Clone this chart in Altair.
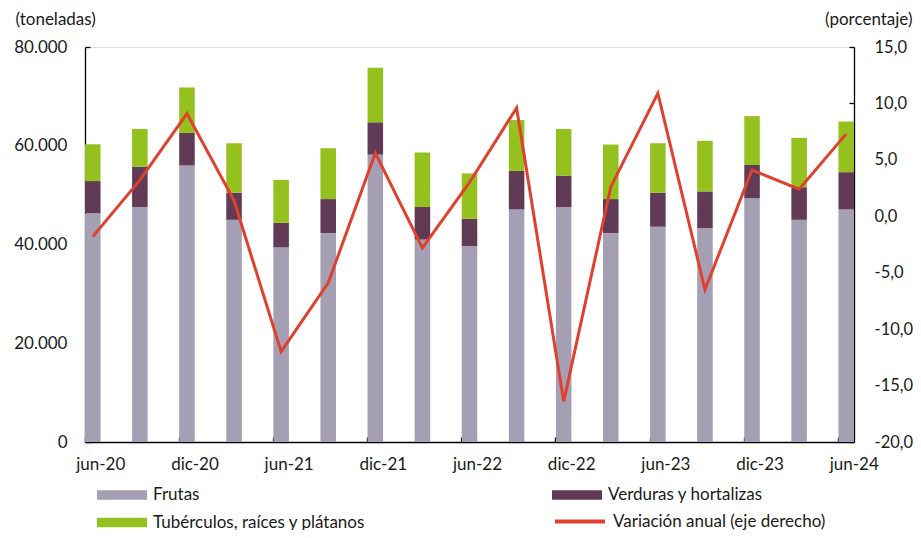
import altair as alt
import pandas as pd

periodos = ["jun-20", "sep-20", "dic-20", "mar-21", "jun-21", "sep-21", "dic-21", "mar-22",
            "jun-22", "sep-22", "dic-22", "mar-23", "jun-23", "sep-23", "dic-23", "mar-24", "jun-24"]
frutas = [46300, 47600, 56000, 45000, 39400, 42300, 58200, 41000, 39700,
          47100, 47600, 42300, 43600, 43300, 49400, 45000, 47100]
verduras = [6550, 8150, 6600, 5500, 5000, 6900, 6550, 6600, 5500,
            7800, 6350, 6900, 6900, 7450, 6700, 6600, 7550]
tuberculos = [7450, 7650, 9200, 10000, 8700, 10300, 11050, 11050, 9200,
              10300, 9450, 11050, 10000, 10250, 9900, 10000, 10250]
variacion = [-1.8, 3.2, 9.1, 1.4, -12.0, -5.9, 5.6, -2.8, 3.0,
             9.6, -16.4, 2.6, 10.9, -6.5, 4.1, 2.4, 7.3]

S_FR = "Frutas"
S_VE = "Verduras y hortalizas"
S_TU = "Tubérculos, raíces y plátanos"
S_VA = "Variación anual (eje derecho)"
series_barras = [S_FR, S_VE, S_TU]
colores_barras = ["#A49FB3", "#613A56", "#95C11F"]
color_linea = "#E0402E"

rows = []
for i, p in enumerate(periodos):
    for o, (s, vals) in enumerate([(S_FR, frutas), (S_VE, verduras), (S_TU, tuberculos)]):
        rows.append({"periodo": p, "serie": s, "valor": vals[i], "orden": o})
df_bar = pd.DataFrame(rows)
df_line = pd.DataFrame({"periodo": periodos, "variacion": variacion, "serie": S_VA})

FONT = "Lato"
TXT = "#1a1a1a"
FS = 17
thick = "M-1,-0.19L1,-0.19L1,0.19L-1,0.19Z"

x_axis = alt.Axis(
    title=None, values=periodos[::2], labelAngle=0, bandPosition=0, labelOffset=8,
    tickSize={"expr": "-5"}, labelPadding=19, domainColor="black", tickColor="black",
    domainWidth=1.3, tickWidth=1.3, labelFontSize=FS, labelColor=TXT, labelFont=FONT,
)
x_enc = alt.X("periodo:N", sort=periodos,
              scale=alt.Scale(paddingInner=0.67, paddingOuter=0), axis=x_axis)

bars = alt.Chart(df_bar).mark_bar().encode(
    x=x_enc,
    y=alt.Y("valor:Q", stack="zero",
            scale=alt.Scale(domain=[0, 80000], nice=False),
            axis=alt.Axis(
                orient="left", values=[0, 20000, 40000, 60000, 80000],
                labelExpr="replace(format(datum.value, ','), ',', '.')",
                tickSize={"expr": "-5"}, labelPadding=23, grid=False,
                domainColor="black", tickColor="black", domainWidth=1.3, tickWidth=1.3,
                labelFontSize=FS, labelColor=TXT, labelFont=FONT,
                title="(toneladas)", titleAngle=0, titleAlign="left", titleBaseline="alphabetic",
                titleX=-70, titleY=-23, titleFontSize=FS, titleFontWeight="normal",
                titleFont=FONT, titleColor=TXT,
            )),
    color=alt.Color("serie:N", sort=series_barras,
                    scale=alt.Scale(domain=series_barras, range=colores_barras),
                    legend=alt.Legend(
                        title=None, orient="none", legendX=12, legendY=440, columns=2,
                        direction="horizontal",
                        columnPadding=186, rowPadding=10.5, clipHeight=16, padding=0,
                        symbolType=thick, symbolSize=2500, symbolStrokeWidth=0,
                        labelFontSize=FS, labelOffset=6, labelFont=FONT, labelColor=TXT,
                        labelLimit=0,
                    )),
    order=alt.Order("orden:Q", sort="ascending"),
)

line = alt.Chart(df_line).mark_line(strokeWidth=3).encode(
    x=x_enc,
    y=alt.Y("variacion:Q",
            scale=alt.Scale(domain=[-20, 15], nice=False, zero=False),
            axis=alt.Axis(
                orient="right", values=list(range(-20, 16, 5)),
                labelExpr="replace(replace(format(datum.value, '.1f'), '.', ','), '\u2212', '-')",
                tickSize={"expr": "-5"}, labelPadding=25, grid=False,
                domainColor="black", tickColor="black", domainWidth=1.3, tickWidth=1.3,
                labelFontSize=16.5, labelColor=TXT, labelFont=FONT,
                title="(porcentaje)", titleAngle=0, titleAlign="right", titleBaseline="alphabetic",
                titleX=58, titleY=-23, titleFontSize=FS, titleFontWeight="normal",
                titleFont=FONT, titleColor=TXT,
            )),
    stroke=alt.Stroke("serie:N",
                      scale=alt.Scale(domain=[S_VA], range=[color_linea]),
                      legend=alt.Legend(
                          title=None, orient="none", legendX=468, legendY=466.5,
                          clipHeight=16, padding=0, symbolType="stroke", symbolSize=2500,
                          symbolStrokeWidth=4, labelFontSize=FS, labelOffset=6,
                          labelFont=FONT, labelColor=TXT, labelLimit=0,
                      )),
)

chart = alt.layer(bars, line).resolve_scale(y="independent").properties(
    width=769, height=395,
    autosize=alt.AutoSizeParams(type="none"),
    padding={"left": 77, "top": 39, "right": 59, "bottom": 88},
).configure_view(stroke=None).configure(font=FONT)

chart.save("out.html", embed_options={"renderer": "svg", "actions": False})
